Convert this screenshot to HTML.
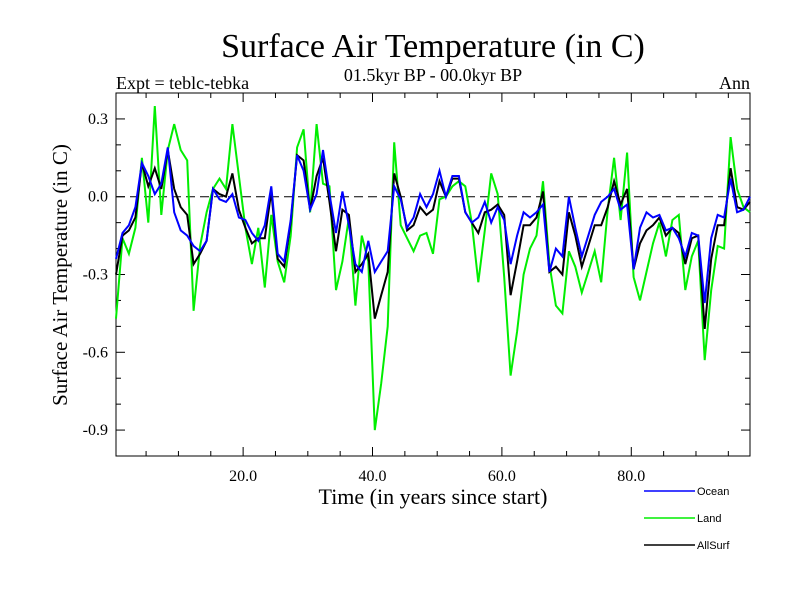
<!DOCTYPE html>
<html><head><meta charset="utf-8"><style>
html,body{margin:0;padding:0;background:#fff;}
svg{display:block;}
text{font-family:"Liberation Serif",serif;fill:#000;}
.leg{font-family:"Liberation Sans",sans-serif;font-size:11px;}
</style></head><body>
<svg id="chart" width="800" height="600" viewBox="0 0 800 600">
<text x="433" y="57" font-size="34" text-anchor="middle">Surface Air Temperature (in C)</text>
<text x="433" y="81" font-size="18" text-anchor="middle">01.5kyr BP - 00.0kyr BP</text>
<text x="116" y="89" font-size="18">Expt = teblc-tebka</text>
<text x="750" y="89" font-size="18" text-anchor="end">Ann</text>
<text x="433" y="504" font-size="22" text-anchor="middle">Time (in years since start)</text>
<text transform="translate(67,275) rotate(-90)" font-size="21" text-anchor="middle">Surface Air Temperature (in C)</text>
<g id="axes"></g>
<g id="series"></g>
<g>
<line x1="644" y1="491" x2="695" y2="491" stroke="#0000ff" stroke-width="1.5"/>
<text class="leg" x="697" y="495">Ocean</text>
<line x1="644" y1="518" x2="695" y2="518" stroke="#00ee00" stroke-width="1.5"/>
<text class="leg" x="697" y="522">Land</text>
<line x1="644" y1="545" x2="695" y2="545" stroke="#000" stroke-width="1.5"/>
<text class="leg" x="697" y="549">AllSurf</text>
</g>
</svg>
<script>
const ocean = [-0.24,-0.14,-0.11,-0.04,0.13,0.08,0.01,0.05,0.19,-0.06,-0.13,-0.15,-0.19,-0.21,-0.17,0.03,-0.01,-0.02,0.01,-0.08,-0.09,-0.14,-0.17,-0.11,0.04,
-0.22,-0.25,-0.09,0.16,0.10,-0.05,0.01,0.18,0.01,-0.14,0.02,-0.11,-0.26,-0.29,-0.17,-0.29,-0.25,-0.21,0.04,-0.01,-0.12,-0.08,0.01,-0.04,0.01,
0.10,0.0,0.08,0.08,-0.06,-0.10,-0.08,-0.02,-0.10,-0.04,-0.09,-0.26,-0.15,-0.06,-0.08,-0.06,-0.03,-0.29,-0.20,-0.23,0.0,-0.12,-0.23,-0.15,-0.07,
-0.02,0.0,0.03,-0.05,-0.03,-0.28,-0.12,-0.06,-0.08,-0.07,-0.13,-0.12,-0.16,-0.23,-0.14,-0.15,-0.41,-0.16,-0.07,-0.08,0.07,-0.06,-0.05,0.0];
const land = [-0.47,-0.16,-0.22,-0.12,0.15,-0.10,0.35,-0.07,0.18,0.28,0.18,0.14,-0.44,-0.19,-0.06,0.03,0.07,0.03,0.28,0.08,-0.12,-0.26,-0.12,-0.35,-0.07,
-0.25,-0.33,-0.15,0.19,0.26,-0.06,0.28,0.05,0.04,-0.36,-0.25,-0.08,-0.42,-0.15,-0.25,-0.90,-0.72,-0.50,0.21,-0.11,-0.16,-0.21,-0.15,-0.14,-0.22,
-0.01,0.0,0.04,0.06,0.04,-0.10,-0.33,-0.13,0.09,0.01,-0.31,-0.69,-0.52,-0.30,-0.20,-0.15,0.06,-0.26,-0.42,-0.45,-0.21,-0.27,-0.37,-0.29,-0.21,
-0.33,-0.05,0.15,-0.09,0.17,-0.31,-0.40,-0.29,-0.18,-0.10,-0.23,-0.09,-0.07,-0.36,-0.23,-0.17,-0.63,-0.36,-0.19,-0.20,0.23,0.03,-0.04,-0.06];
const allsurf = [-0.30,-0.15,-0.13,-0.08,0.13,0.04,0.11,0.03,0.18,0.03,-0.04,-0.07,-0.26,-0.22,-0.17,0.03,0.01,0.0,0.09,-0.05,-0.12,-0.18,-0.16,-0.16,0.02,
-0.24,-0.27,-0.10,0.16,0.14,-0.05,0.08,0.15,-0.02,-0.21,-0.05,-0.07,-0.29,-0.26,-0.22,-0.47,-0.38,-0.29,0.09,0.0,-0.13,-0.11,-0.04,-0.07,-0.05,
0.06,0.0,0.07,0.07,-0.06,-0.10,-0.14,-0.06,-0.05,-0.03,-0.07,-0.38,-0.25,-0.11,-0.11,-0.08,0.02,-0.29,-0.27,-0.30,-0.06,-0.15,-0.27,-0.19,-0.11,
-0.11,-0.04,0.06,-0.03,0.03,-0.28,-0.18,-0.13,-0.11,-0.08,-0.15,-0.12,-0.14,-0.26,-0.16,-0.15,-0.51,-0.24,-0.11,-0.11,0.11,-0.04,-0.05,-0.02];
const xTickValues = [20,40,60,80];
const xTickLabels = ["20.0","40.0","60.0","80.0"];
const yTickValues = [0.3,0.0,-0.3,-0.6,-0.9];
const yTickLabels = ["0.3","0.0","-0.3","-0.6","-0.9"];

const NS="http://www.w3.org/2000/svg";
const L=116,R=750,T=93,B=456;
const X0=0.35,X1=98.35,Y0=-1.0,Y1=0.4;
function xs(v){return L+(v-X0)/(X1-X0)*(R-L);}
function ys(v){return B-(v-Y0)/(Y1-Y0)*(B-T);}
function mk(tag,attrs,parent){const e=document.createElementNS(NS,tag);for(const k in attrs)e.setAttribute(k,attrs[k]);parent.appendChild(e);return e;}
const ax=document.getElementById('axes');
let fr=mk('rect',{x:L,y:T,width:R-L,height:B-T,fill:'none',stroke:'#000','stroke-width':1},ax);


let zl=mk('line',{x1:L,x2:R,y1:ys(0),y2:ys(0),stroke:'#000','stroke-dasharray':'9,5','stroke-width':1},ax);


for(let v=5;v<X1;v+=5){
  const len=(v%20===0)?9:5;const x=xs(v);
  let t1=mk('line',{x1:x,x2:x,y1:B,y2:B-len,stroke:'#000'},ax);
  
  
  let t2=mk('line',{x1:x,x2:x,y1:T,y2:T+len,stroke:'#000'},ax);
  
  
}
for(let i=-9;i<=3;i++){
  const v=i/10;const major=(i%3===0);const len=major?9:5;const y=ys(v);
  let t1=mk('line',{x1:L,x2:L+len,y1:y,y2:y,stroke:'#000'},ax);
  
  
  let t2=mk('line',{x1:R,x2:R-len,y1:y,y2:y,stroke:'#000'},ax);
  
  
}
xTickValues.forEach((v,i)=>{
  const t=mk('text',{x:xs(v),y:481,'font-size':16,'text-anchor':'middle'},ax);t.textContent=xTickLabels[i];
  
  
});
yTickValues.forEach((v,i)=>{
  const t=mk('text',{x:108,y:ys(v)+5,'font-size':16,'text-anchor':'end'},ax);t.textContent=yTickLabels[i];
  
  
});
const sg=document.getElementById('series');
function line(data,color,name){
  const pts=data.map((v,k)=>xs(k+X0).toFixed(1)+','+ys(v).toFixed(1)).join(' ');
  const p=mk('polyline',{points:pts,fill:'none',stroke:color,'stroke-width':2,'stroke-linejoin':'miter'},sg);
  
  
}
line(land,'#00ee00','land-line');
line(allsurf,'#000000','allsurf-line');
line(ocean,'#0000ff','ocean-line');
</script>
</body></html>
